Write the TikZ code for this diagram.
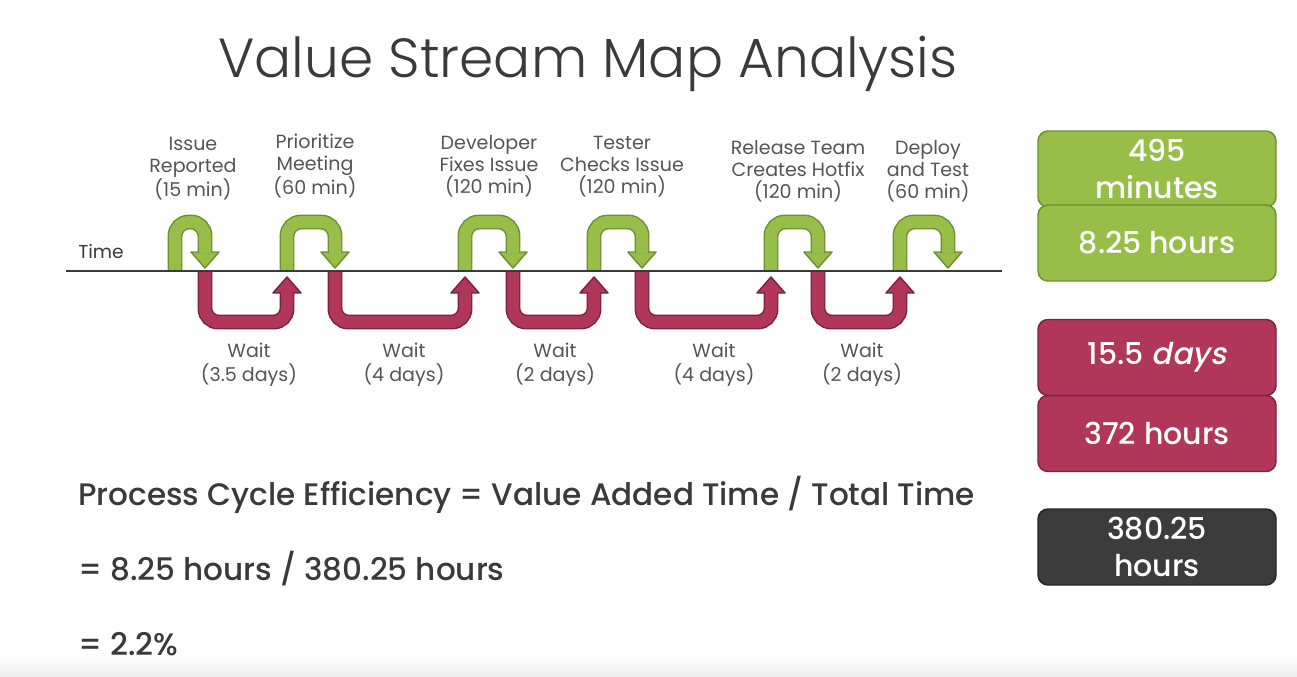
\documentclass[tikz,border=0pt]{standalone}
\usepackage{fontspec}
\setmainfont{Poppins}
\IfFontExistsTF{Poppins Light}{\newfontfamily\titlefont{Poppins Light}}{\newfontfamily\titlefont{Poppins}}
\IfFontExistsTF{Poppins Medium}{\newfontfamily\medfont{Poppins Medium}}{\newfontfamily\medfont{Poppins}}
\definecolor{gfill}{HTML}{97BE48}
\definecolor{gline}{HTML}{6E9030}
\definecolor{rfill}{HTML}{B0365A}
\definecolor{rline}{HTML}{7D2141}
\definecolor{kfill}{HTML}{3C3C3C}
\definecolor{kline}{HTML}{262626}
\definecolor{inkgray}{HTML}{3A3A3A}
\definecolor{labelgray}{HTML}{555555}
\tikzset{
  gband/.style={draw=gline, double=gfill, double distance=9pt, line width=1.1pt, rounded corners=10.5pt},
  rband/.style={draw=rline, double=rfill, double distance=9pt, line width=1.1pt, rounded corners=10pt},
  ghead/.style={fill=gfill, draw=gline, line width=1.1pt, line join=round},
  rhead/.style={fill=rfill, draw=rline, line width=1.1pt, line join=round},
  steplabel/.style={align=center, text=labelgray, inner sep=0pt, font=\fontsize{14.3}{16.5}\selectfont},
  waitlabel/.style={align=center, text=labelgray, inner sep=0pt, font=\fontsize{14.3}{18}\selectfont},
  totalbox/.style={rectangle, rounded corners=7.5pt, minimum width=178.5pt, minimum height=57pt,
    line width=1.1pt, text=white, align=center, font=\medfont\fontsize{22.5}{27.5}\selectfont},
  formula/.style={anchor=base west, inner sep=0pt, text=inkgray, font=\medfont\fontsize{23.3}{26}\selectfont}
}
% value-added hop above the time line: legs at x=#1 and x=#2
\newcommand\vahop[2]{%
  \filldraw[ghead] (#2-14,252) -- (#2+14,252) -- (#2,268) -- cycle;
  \draw[gband] (#1,271) -- (#1,222) -- (#2,222) -- (#2,253);
}
% waiting loop below the time line: from x=#1 back up at x=#2
\newcommand\vawait[2]{%
  \filldraw[rhead] (#2-14,293) -- (#2+14,293) -- (#2,277) -- cycle;
  \draw[rband] (#1,271) -- (#1,322) -- (#2,322) -- (#2,292);
}
\begin{document}
\begin{tikzpicture}[x=0.75pt, y=-0.75pt]
  \fill[white] (0,0) rectangle (1297,676);
  \useasboundingbox (0,0) rectangle (1297,676);
  \shade[top color=white, bottom color=black!7] (0,656) rectangle (1297,676);

  \node[anchor=base, inner sep=0pt, text=inkgray, font=\titlefont\fontsize{41.3}{46}\selectfont] (title) at (588,77) {Value Stream Map Analysis};

  % process steps
  \node[steplabel] (s1) at (193,169) {Issue\\Reported\\(15 min)};
  \node[steplabel] (s2) at (315,166) {Prioritize\\Meeting\\(60 min)};
  \node[steplabel] (s3) at (489,166.5) {Developer\\Fixes Issue\\(120 min)};
  \node[steplabel] (s4) at (622,167) {Tester\\Checks Issue\\(120 min)};
  \node[steplabel] (s5) at (798,171.5) {Release Team\\Creates Hotfix\\(120 min)};
  \node[steplabel] (s6) at (928,171.5) {Deploy\\and Test\\(60 min)};

  % waits
  \node[waitlabel] (w1) at (249,365) {Wait\\(3.5 days)};
  \node[waitlabel] (w2) at (404,365) {Wait\\(4 days)};
  \node[waitlabel] (w3) at (555,365) {Wait\\(2 days)};
  \node[waitlabel] (w4) at (714,365) {Wait\\(4 days)};
  \node[waitlabel] (w5) at (862,365) {Wait\\(2 days)};

  \vahop{175}{205}
  \vahop{287}{335}
  \vahop{465}{513}
  \vahop{594}{642}
  \vahop{771}{818}
  \vahop{900}{948}

  \vawait{205}{287}
  \vawait{335}{465}
  \vawait{513}{594}
  \vawait{642}{771}
  \vawait{818}{900}

  % time axis
  \node[anchor=base west, inner sep=0pt, text=inkgray, font=\fontsize{14}{15}\selectfont] (time) at (78,258) {Time};
  \coordinate (axisstart) at (66,271);
  \coordinate (axisend) at (1002,271);
  \draw[line width=2.2pt, inkgray] (axisstart) -- (axisend);

  % totals
  \node[totalbox, fill=gfill, draw=gline] (vamin) at (1157,169) {495\\minutes};
  \node[totalbox, fill=gfill, draw=gline] (vahr) at (1157,243) {8.25 hours};
  \node[totalbox, fill=rfill, draw=rline] (nvaday) at (1157,357.5) {15.5 {\addfontfeatures{FakeSlant=0.2}days}};
  \node[totalbox, fill=rfill, draw=rline] (nvahr) at (1157,433.5) {372 hours};
  \node[totalbox, fill=kfill, draw=kline] (total) at (1157,547) {380.25\\hours};

  % efficiency
  \node[formula] (pce) at (78,505) {Process Cycle Efficiency = Value Added Time / Total Time};
  \node[formula] (ratio) at (78,580) {= 8.25 hours / 380.25 hours};
  \node[formula] (result) at (78,655) {= 2.2\%};
\end{tikzpicture}
\end{document}
